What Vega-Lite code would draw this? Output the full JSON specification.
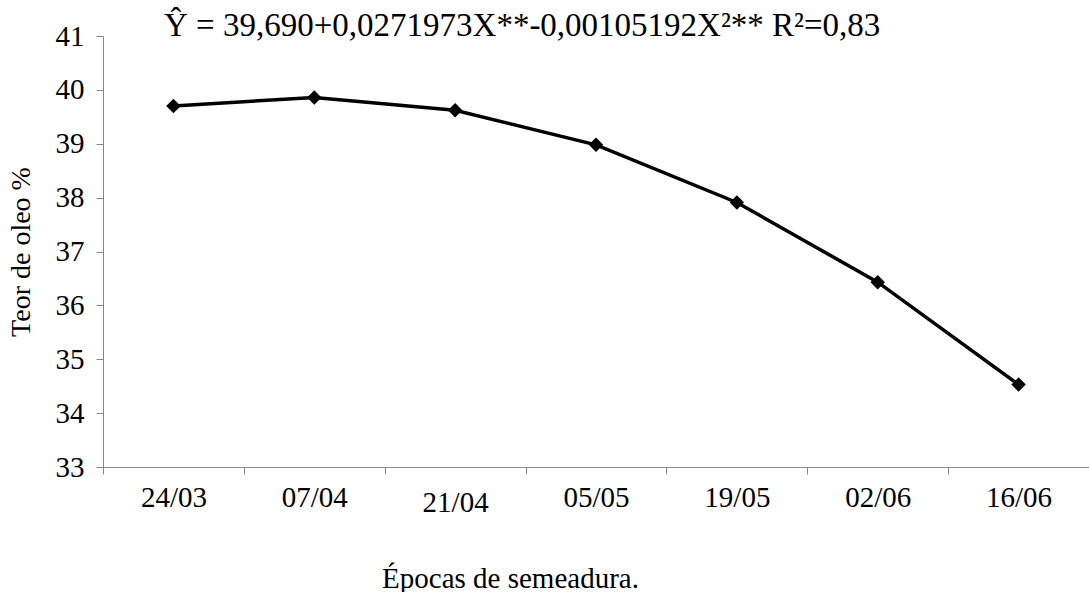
{
  "$schema": "https://vega.github.io/schema/vega-lite/v6.json",
  "width": 986,
  "height": 431,
  "autosize": {"type": "none"},
  "padding": {"left": 103, "top": 36, "right": 0, "bottom": 125},
  "background": "white",
  "title": {
    "text": "Ŷ = 39,690+0,0271973X**-0,00105192X²** R²=0,83",
    "anchor": "start",
    "dx": 157,
    "offset": -21,
    "font": "Liberation Serif",
    "fontSize": 33,
    "fontWeight": "normal",
    "color": "black"
  },
  "data": {
    "values": [
      {"data": "24/03", "teor": 39.70},
      {"data": "07/04", "teor": 39.86},
      {"data": "21/04", "teor": 39.62},
      {"data": "05/05", "teor": 38.98},
      {"data": "19/05", "teor": 37.91},
      {"data": "02/06", "teor": 36.43},
      {"data": "16/06", "teor": 34.53}
    ]
  },
  "encoding": {
    "x": {
      "field": "data",
      "type": "ordinal",
      "sort": null,
      "scale": {"paddingInner": 0, "paddingOuter": 0},
      "axis": {
        "title": "Épocas de semeadura.",
        "titleFont": "Liberation Serif",
        "titleFontSize": 29,
        "titleFontWeight": "normal",
        "titleColor": "black",
        "titleX": 407,
        "titleY": 120,
        "titleBaseline": "alphabetic",
        "titleAnchor": "middle",
        "labelFont": "Liberation Serif",
        "labelFontSize": 29,
        "labelColor": "black",
        "labelAngle": 0,
        "labelPadding": {"condition": {"test": "datum.value === '21/04'", "value": 14}, "value": 9},
        "domainColor": "#888888",
        "tickColor": "#888888",
        "tickBand": "extent",
        "tickSize": 7,
        "grid": false
      }
    },
    "y": {
      "field": "teor",
      "type": "quantitative",
      "scale": {"domain": [33, 41], "nice": false, "zero": false},
      "axis": {
        "title": "Teor de oleo %",
        "titleFont": "Liberation Serif",
        "titleFontSize": 28,
        "titleFontWeight": "normal",
        "titleColor": "black",
        "titlePadding": 20,
        "values": [33, 34, 35, 36, 37, 38, 39, 40, 41],
        "labelFont": "Liberation Serif",
        "labelFontSize": 29,
        "labelColor": "black",
        "labelPadding": 12,
        "domainColor": "#888888",
        "tickColor": "#888888",
        "tickSize": 7,
        "grid": false
      }
    }
  },
  "layer": [
    {"mark": {"type": "line", "color": "black", "strokeWidth": 3.5}},
    {"mark": {"type": "point", "shape": "diamond", "filled": true, "color": "black", "size": 210, "opacity": 1}}
  ],
  "config": {"view": {"stroke": null}}
}
